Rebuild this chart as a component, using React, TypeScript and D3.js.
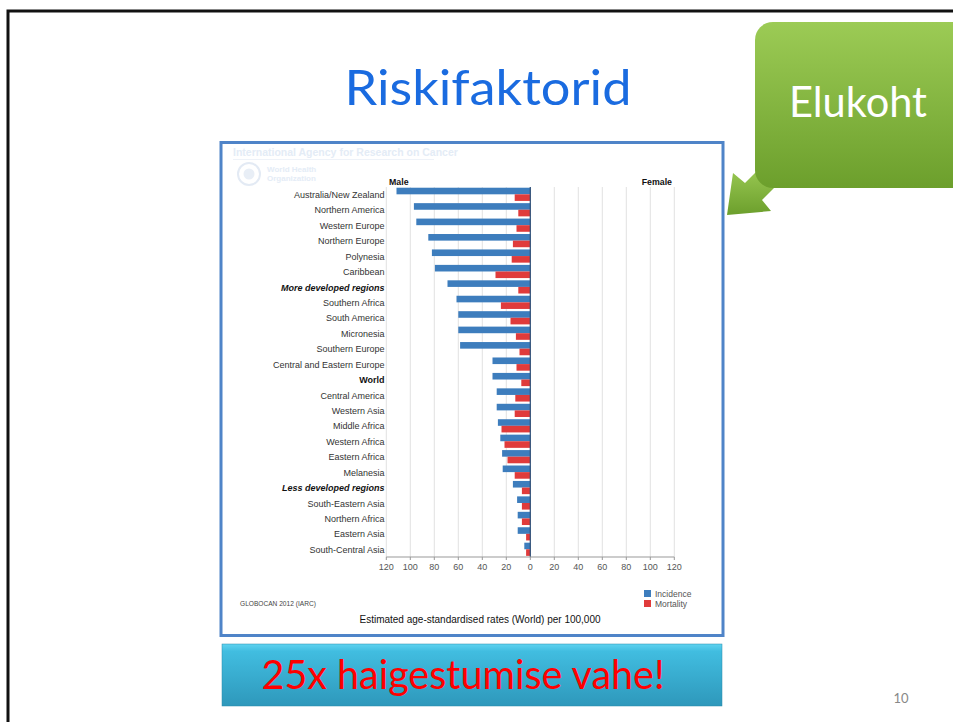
import React from 'react';
import * as d3 from 'd3';

// regions, top to bottom
const regions = [
  'Australia/New Zealand', 'Northern America', 'Western Europe', 'Northern Europe',
  'Polynesia', 'Caribbean', 'More developed regions', 'Southern Africa', 'South America',
  'Micronesia', 'Southern Europe', 'Central and Eastern Europe', 'World', 'Central America',
  'Western Asia', 'Middle Africa', 'Western Africa', 'Eastern Africa', 'Melanesia',
  'Less developed regions', 'South-Eastern Asia', 'Northern Africa', 'Eastern Asia',
  'South-Central Asia',
];

// male rates per 100,000
const incidence = [111.5, 97, 95, 85, 82, 79.5, 69, 61.5, 60, 60, 58.5, 31.5, 31.5, 28, 28, 27, 25, 23.5, 23, 14.5, 11, 10.5, 10.5, 5];
const mortality = [13, 10, 11.5, 14.5, 15.5, 29, 10, 24.5, 16.5, 12, 9, 11.5, 7.5, 12.5, 13, 24, 21.5, 19, 13, 7, 7, 7, 3.5, 3.5];

const tickValues = [-120, -100, -80, -60, -40, -20, 0, 20, 40, 60, 80, 100, 120];

const boldItalic = ['More developed regions', 'Less developed regions'];
const boldOnly = ['World'];

const width = 953;
const height = 722;

const x = d3.scaleLinear().domain([-120, 120]).range([386.3, 674.3]);
const y = d3.scaleBand().domain(regions).range([186.6, 557]);

const BLUE = '#3d7dbd';
const RED = '#e03b3b';
const chartFont = '"Liberation Sans", Arial, sans-serif';

const App = () => {
  const zero = x(0);
  return (
    <svg width={width} height={height} style={{ position: 'absolute', left: 0, top: 0, background: '#fff' }}>
      <defs>
        <linearGradient id="green" x1="0" y1="0" x2="0" y2="1">
          <stop offset="0" stopColor="#9ccb55" />
          <stop offset="1" stopColor="#6c9f2c" />
        </linearGradient>
        <linearGradient id="cyan" x1="0" y1="0" x2="0" y2="1">
          <stop offset="0" stopColor="#5fd3f0" />
          <stop offset="0.12" stopColor="#41bde0" />
          <stop offset="1" stopColor="#2e98bb" />
        </linearGradient>
      </defs>

      {/* slide frame */}
      <rect x={8} y={11} width={960} height={730} fill="none" stroke="#111" strokeWidth={3} />

      <text x={488} y={105} textAnchor="middle" fontFamily="Lato, 'Open Sans', sans-serif" fontSize={49}
        fill="#1a6be0" textLength={287} lengthAdjust="spacingAndGlyphs">Riskifaktorid</text>

      {/* chart picture frame */}
      <rect x={221} y={142.5} width={502} height={493} fill="#fff" stroke="#4f84c8" strokeWidth={3} />

      <g fontFamily={chartFont}>
        <text x={233} y={156} fontSize={10.5} fontWeight="bold" fill="#e4ecf6">International Agency for Research on Cancer</text>
        <line x1={233} x2={434} y1={159.5} y2={159.5} stroke="#eef2f8" />
        <circle cx={249} cy={174} r={11} fill="none" stroke="#e3eaf4" strokeWidth={2} />
        <circle cx={249} cy={174} r={5.5} fill="#e8eef6" />
        <text x={267} y={172} fontSize={8} fontWeight="bold" fill="#e4ecf6">World Health</text>
        <text x={267} y={180.5} fontSize={8} fontWeight="bold" fill="#e4ecf6">Organization</text>

        <text x={389} y={185} fontSize={8.8} fontWeight="bold" fill="#111">Male</text>
        <text x={672} y={185} fontSize={8.8} fontWeight="bold" fill="#111" textAnchor="end">Female</text>

        {/* grid */}
        {tickValues.map(t => (
          <line key={t} x1={x(t)} x2={x(t)} y1={187} y2={557} stroke="#e2e2e2" />
        ))}

        {/* bars */}
        {regions.map((r, i) => {
          const c = (y(r) as number) + y.bandwidth() / 2;
          return (
            <g key={r}>
              <rect x={x(-incidence[i])} y={c - 6.6} width={zero - x(-incidence[i])} height={6.6} fill={BLUE} />
              <rect x={x(-mortality[i])} y={c} width={zero - x(-mortality[i])} height={6.6} fill={RED} />
              <text x={384.5} y={c + 3.6} textAnchor="end" fontSize={9}
                fontWeight={boldItalic.includes(r) || boldOnly.includes(r) ? 'bold' : 'normal'}
                fontStyle={boldItalic.includes(r) ? 'italic' : 'normal'}
                fill={boldItalic.includes(r) || boldOnly.includes(r) ? '#111' : '#333'}>{r}</text>
            </g>
          );
        })}
        <line x1={zero} x2={zero} y1={187} y2={557} stroke="#2c4e78" strokeWidth={1.2} />

        {/* axis */}
        <line x1={x(-120)} x2={x(120)} y1={557} y2={557} stroke="#999" />
        {tickValues.map(t => (
          <g key={t}>
            <line x1={x(t)} x2={x(t)} y1={557} y2={560} stroke="#999" />
            <text x={x(t)} y={569.5} textAnchor="middle" fontSize={9} fill="#555">{Math.abs(t)}</text>
          </g>
        ))}

        {/* legend */}
        <rect x={644} y={590} width={7} height={7} fill={BLUE} />
        <text x={655} y={597} fontSize={8.5} fill="#555">Incidence</text>
        <rect x={644} y={600} width={7} height={7} fill={RED} />
        <text x={655} y={607} fontSize={8.5} fill="#555">Mortality</text>

        <text x={240} y={606} fontSize={6.6} fill="#444">GLOBOCAN 2012 (IARC)</text>
        <text x={480} y={623} textAnchor="middle" fontSize={10} fill="#111">Estimated age-standardised rates (World) per 100,000</text>
      </g>

      {/* green callout */}
      <g>
        <path d="M727,215 L733,173 L745,183 L763,165 L780,182 L762,200 L771,211 Z" fill="url(#green)" />
        <rect x={755} y={22} width={215} height={166} rx={18} fill="url(#green)" />
        <text x={858} y={117} textAnchor="middle" fontFamily="Lato, 'Open Sans', sans-serif" fontSize={42}
          fill="#fff" textLength={138} lengthAdjust="spacingAndGlyphs">Elukoht</text>
      </g>

      {/* bottom banner */}
      <rect x={222} y={644} width={500} height={62} fill="url(#cyan)" stroke="#2a8aaa" strokeWidth={0.5} />
      <text x={463} y={689} textAnchor="middle" fontFamily="Lato, 'Open Sans', sans-serif" fontSize={40}
        fill="#ff0000" textLength={403} lengthAdjust="spacingAndGlyphs">25x haigestumise vahe!</text>

      <text x={901} y={703} textAnchor="middle" fontFamily="Lato, 'Open Sans', sans-serif" fontSize={13} fill="#888">10</text>
    </svg>
  );
};

export default App;
